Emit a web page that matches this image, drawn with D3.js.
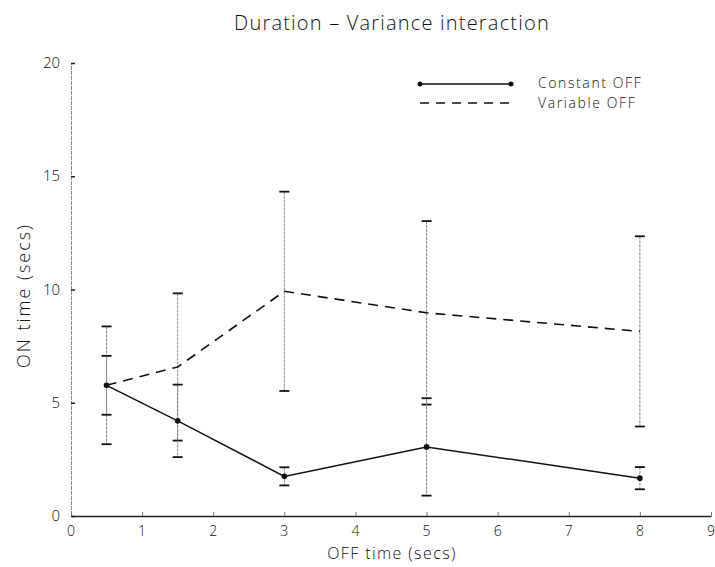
<!DOCTYPE html>
<html>
<head>
<meta charset="utf-8">
<script src="https://cdn.jsdelivr.net/npm/d3@7"></script>
<style>
  html, body { margin: 0; padding: 0; background: #fff; }
  text { font-family: "Open Sans", "DejaVu Sans", sans-serif; font-weight: 300; fill: #111; }
</style>
</head>
<body>
<svg id="chart" width="715" height="567"></svg>
<script>
// OFF time (secs) at which ON time was measured
const offTime = [0.5, 1.5, 3, 5, 8];
// Mean ON time (secs) and error half-widths for each condition
const constantMean = [5.77, 4.2, 1.75, 3.05, 1.67];
const constantErr  = [1.3, 1.6, 0.4, 2.15, 0.49];
const variableMean = [5.77, 6.58, 9.92, 8.97, 8.15];
const variableErr  = [2.6, 3.25, 4.4, 4.05, 4.2];

const xTicks = [0, 1, 2, 3, 4, 5, 6, 7, 8, 9];
const yTicks = [0, 5, 10, 15, 20];
const seriesNames = ["Constant OFF", "Variable OFF"];

const svg = d3.select("#chart");
const x = d3.scaleLinear().domain([0, 9]).range([71, 711]);
const y = d3.scaleLinear().domain([0, 20]).range([516, 63]);

// Title
svg.append("text")
  .attr("x", 392).attr("y", 30)
  .attr("text-anchor", "middle")
  .style("font-size", "20px")
  .style("letter-spacing", "1.2px")
  .text("Duration \u2013 Variance interaction");

// Y axis: faint vertical rule with short inward ticks
const yAxis = svg.append("g").attr("transform", `translate(${x(0)},0)`)
  .call(d3.axisRight(y).tickValues(yTicks).tickSize(4).tickFormat(""));
yAxis.select(".domain").attr("stroke", "#888").attr("stroke-width", 1).attr("stroke-dasharray", "4,1");
yAxis.selectAll(".tick line").attr("stroke", "#222").attr("stroke-width", 1.5);
svg.append("g").selectAll("text").data(yTicks).join("text")
  .attr("x", x(0) - 11).attr("y", d => y(d) + 5)
  .attr("text-anchor", "end")
  .style("font-size", "15px")
  .text(d => d);

// X axis: solid baseline with small upward ticks
const xAxis = svg.append("g").attr("transform", `translate(0,${y(0)})`)
  .call(d3.axisTop(x).tickValues(xTicks).tickSize(4).tickSizeOuter(0).tickFormat(""));
xAxis.select(".domain").attr("stroke", "#222").attr("stroke-width", 1.6);
xAxis.selectAll(".tick line").attr("stroke", "#777").attr("stroke-width", 1);
svg.append("g").selectAll("text").data(xTicks).join("text")
  .attr("x", d => x(d)).attr("y", y(0) + 20)
  .attr("text-anchor", "middle")
  .style("font-size", "14px")
  .text(d => d);

// Axis titles
svg.append("text")
  .attr("x", x(4.5) + 1).attr("y", 559)
  .attr("text-anchor", "middle")
  .style("font-size", "16px")
  .style("letter-spacing", "1.4px")
  .text("OFF time (secs)");
svg.append("text")
  .attr("transform", `translate(30,${y(10) + 6}) rotate(-90)`)
  .attr("text-anchor", "middle")
  .style("font-size", "18px")
  .style("letter-spacing", "2px")
  .text("ON time (secs)");

// Error bars for both conditions
const capHalf = 5;
function errorBars(means, errs, cls) {
  const rows = offTime.map((t, i) => ({ t, m: means[i], e: errs[i] }));
  const g = svg.append("g").attr("class", cls);
  g.selectAll("line.stem").data(rows).join("line")
    .attr("class", "stem")
    .attr("x1", d => x(d.t)).attr("x2", d => x(d.t))
    .attr("y1", d => y(d.m + d.e)).attr("y2", d => y(d.m - d.e))
    .attr("stroke", "#888").attr("stroke-width", 1)
    .attr("stroke-dasharray", "3,1");
  ["hi", "lo"].forEach(side => {
    g.selectAll("line.cap-" + side).data(rows).join("line")
      .attr("class", "cap-" + side)
      .attr("x1", d => x(d.t) - capHalf).attr("x2", d => x(d.t) + capHalf)
      .attr("y1", d => y(side === "hi" ? d.m + d.e : d.m - d.e))
      .attr("y2", d => y(side === "hi" ? d.m + d.e : d.m - d.e))
      .attr("stroke", "#111").attr("stroke-width", 1.8);
  });
}
errorBars(variableMean, variableErr, "err-variable");
errorBars(constantMean, constantErr, "err-constant");

// Mean lines
const line = d3.line().x(d => x(d[0])).y(d => y(d[1]));
svg.append("path")
  .datum(offTime.map((t, i) => [t, variableMean[i]]))
  .attr("d", line)
  .attr("fill", "none").attr("stroke", "#111").attr("stroke-width", 1.6)
  .attr("stroke-dasharray", "10,7");
svg.append("path")
  .datum(offTime.map((t, i) => [t, constantMean[i]]))
  .attr("d", line)
  .attr("fill", "none").attr("stroke", "#111").attr("stroke-width", 1.5);
svg.append("g").selectAll("circle").data(offTime.map((t, i) => [t, constantMean[i]])).join("circle")
  .attr("cx", d => x(d[0])).attr("cy", d => y(d[1])).attr("r", 2.8)
  .attr("fill", "#111");

// Legend
const legend = svg.append("g");
legend.append("line")
  .attr("x1", 420).attr("x2", 511).attr("y1", 84).attr("y2", 84)
  .attr("stroke", "#111").attr("stroke-width", 1.5);
legend.selectAll("circle").data([420, 511]).join("circle")
  .attr("cx", d => d).attr("cy", 84).attr("r", 2.5).attr("fill", "#111");
legend.append("line")
  .attr("x1", 420).attr("x2", 511).attr("y1", 103).attr("y2", 103)
  .attr("stroke", "#111").attr("stroke-width", 1.5)
  .attr("stroke-dasharray", "9,7");
legend.selectAll("text").data(seriesNames).join("text")
  .attr("x", 538).attr("y", (d, i) => 88 + i * 20)
  .style("font-size", "14px")
  .style("letter-spacing", "1.6px")
  .text(d => d);
</script>
</body>
</html>
